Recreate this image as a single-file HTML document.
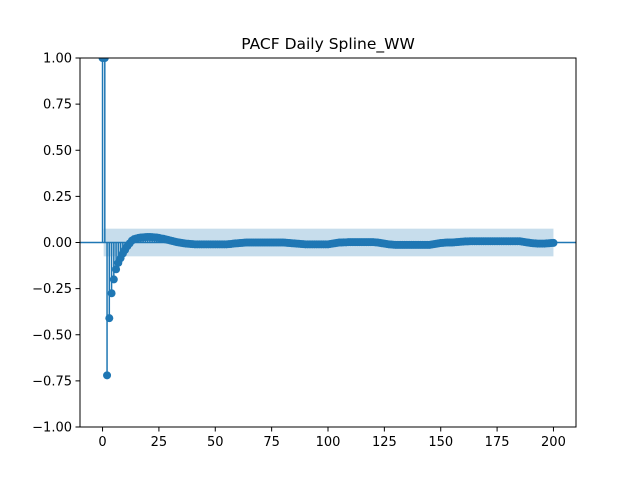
<!DOCTYPE html>
<html><head><meta charset="utf-8"><style>
body{margin:0;background:#fff;font-family:"Liberation Sans","DejaVu Sans",sans-serif}
svg text{font-family:"DejaVu Sans","Liberation Sans",sans-serif}
</style></head><body>
<svg id="c" width="640" height="480" xmlns="http://www.w3.org/2000/svg">
<defs><clipPath id="clip"><rect x="80" y="58" width="496" height="369"/></clipPath></defs>
<rect width="640" height="480" fill="#fff"/>
<text x="328" y="49" text-anchor="middle" font-size="15.5">PACF Daily Spline_WW</text>
<g id="plot" clip-path="url(#clip)"></g>
<rect x="80" y="58" width="496" height="369" fill="none" stroke="#000" stroke-width="1"/>
<g id="axes"></g>
</svg>
<script>
const xTicks=[0,25,50,75,100,125,150,175,200];
const yTicks=[-1,-0.75,-0.5,-0.25,0,0.25,0.5,0.75,1];
const yTickLabels=["−1.00","−0.75","−0.50","−0.25","0.00","0.25","0.50","0.75","1.00"];
const confHalfWidth=0.075;
const pacfValues=[1,1,-0.72,-0.41,-0.275,-0.2,-0.145,-0.11,-0.085,-0.06,-0.04,-0.02,-0.005,0.01,0.018,0.022,0.025,0.027,0.028,0.029,0.03,
0.03,0.029,0.028,0.027,0.025,0.022,0.02,0.017,0.014,0.011,
0.008,0.005,0.002,0,-0.002,-0.004,-0.006,-0.007,-0.008,-0.009,
-0.01,-0.01,-0.01,-0.01,-0.01,-0.01,-0.01,-0.01,-0.01,-0.01,-0.01,-0.01,-0.01,-0.01,-0.01,
-0.009,-0.008,-0.006,-0.005,-0.004,
-0.003,-0.002,-0.001,0,0,0,0,0,0,0,
0,0,0,0,0,0,0,0,0,0,
-0.001,-0.002,-0.003,-0.004,-0.005,-0.006,-0.007,-0.008,-0.009,-0.01,
-0.01,-0.01,-0.01,-0.01,-0.01,-0.01,-0.01,-0.01,-0.01,-0.01,
-0.008,-0.006,-0.004,-0.002,0,0,0.001,0.001,0.002,0.002,
0.002,0.002,0.002,0.002,0.002,0.002,0.002,0.002,0.002,0.002,
0.001,0,-0.002,-0.004,-0.006,-0.008,-0.01,-0.011,-0.012,-0.013,
-0.013,-0.013,-0.013,-0.013,-0.013,-0.013,-0.013,-0.013,-0.013,-0.013,-0.013,-0.013,-0.013,-0.013,-0.013,
-0.011,-0.009,-0.007,-0.005,-0.003,-0.002,-0.001,0,0,0,
0.001,0.002,0.003,0.004,0.005,0.006,0.006,0.007,0.007,0.007,
0.007,0.007,0.007,0.007,0.007,0.007,0.007,0.007,0.007,0.007,0.007,0.007,0.007,0.007,0.007,0.007,0.007,0.007,0.007,0.007,
0.005,0.003,0.001,-0.001,-0.003,-0.004,-0.005,-0.006,-0.006,-0.006,-0.006,-0.005,-0.004,-0.003,-0.002];
const NS="http://www.w3.org/2000/svg";
const X0=80,X1=576,Y0=58,Y1=427,XMIN=-10,XMAX=210,YMIN=-1,YMAX=1;
function sx(v){return X0+(v-XMIN)/(XMAX-XMIN)*(X1-X0);}
function sy(v){return Y1-(v-YMIN)/(YMAX-YMIN)*(Y1-Y0);}
function mk(tag,attrs,parent){const e=document.createElementNS(NS,tag);for(const k in attrs)e.setAttribute(k,attrs[k]);parent.appendChild(e);return e;}
const plot=document.getElementById('plot'),axes=document.getElementById('axes');
const C="#1f77b4";
const n=pacfValues.length;
const band=mk('rect',{x:sx(0.5),y:sy(confHalfWidth),width:sx(n-1)-sx(0.5),height:sy(-confHalfWidth)-sy(confHalfWidth),fill:C,'fill-opacity':0.25},plot);


const zl=mk('line',{x1:X0,x2:X1,y1:sy(0),y2:sy(0),stroke:C,'stroke-width':1.5},plot);


pacfValues.forEach((v,i)=>{
 const s=mk('line',{x1:sx(i),x2:sx(i),y1:sy(0),y2:sy(v),stroke:C,'stroke-width':1.5},plot);
 
 
});
pacfValues.forEach((v,i)=>{
 const m=mk('circle',{cx:sx(i),cy:sy(v),r:4,fill:C},plot);
 
 
});
xTicks.forEach(t=>{
 const l=mk('line',{x1:sx(t),x2:sx(t),y1:Y1,y2:Y1+4.5,stroke:'#000','stroke-width':1},axes);
 
 
 const tx=mk('text',{x:sx(t),y:Y1+19,'text-anchor':'middle','font-size':13},axes);
 tx.textContent=t;
 
 
});
yTicks.forEach((t,i)=>{
 const l=mk('line',{x1:X0-4.5,x2:X0,y1:sy(t),y2:sy(t),stroke:'#000','stroke-width':1},axes);
 
 
 const tx=mk('text',{x:X0-8,y:sy(t)+4.5,'text-anchor':'end','font-size':13},axes);
 tx.textContent=yTickLabels[i];
 
 
});
</script>
</body></html>
